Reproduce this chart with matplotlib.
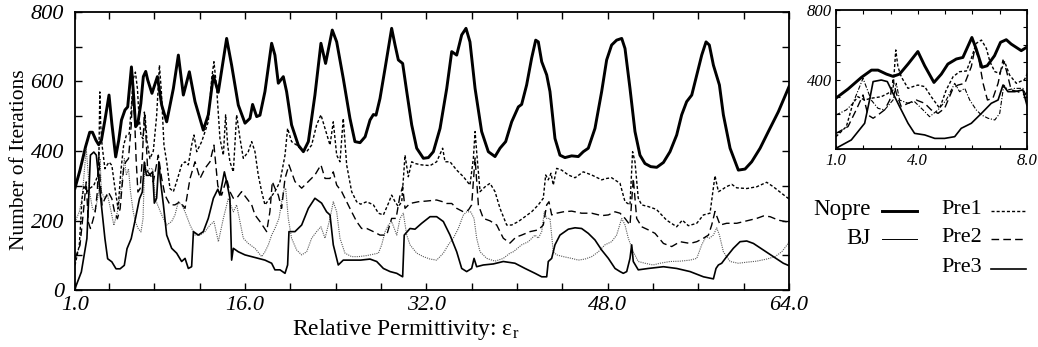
import matplotlib
matplotlib.use('Agg')
import matplotlib.pyplot as plt
from matplotlib.lines import Line2D
from matplotlib.ticker import FixedLocator, MultipleLocator

plt.rcParams['font.family'] = ['Liberation Serif', 'DejaVu Serif']
plt.rcParams['mathtext.fontset'] = 'custom'
plt.rcParams['mathtext.rm'] = 'Liberation Serif'
plt.rcParams['mathtext.it'] = 'Liberation Serif:italic'

# ---------------- data ----------------
nopre_x = [1.0,1.44,1.93,2.3,2.54,2.85,3.09,3.33,3.64,4.0,
           4.25,4.59,4.86,5.1,5.41,5.65,5.98,6.14,6.35,6.54,
           6.81,7.03,7.24,7.42,7.79,8.27,8.65,9.09,9.68,10.12,
           10.56,11.09,11.59,12.32,12.76,13.21,13.64,14.38,14.82,15.41,
           16.0,16.44,16.67,17.03,17.32,17.76,18.35,18.64,18.94,19.38,
           19.67,20.11,20.7,21.15,21.59,22.17,22.7,23.11,23.7,24.09,
           24.67,25.26,25.7,26.15,26.6,27.03,27.33,27.56,27.91,28.36,
           28.94,29.24,29.53,29.91,30.27,30.71,31.15,31.74,32.18,32.62,
           33.21,33.8,34.24,34.68,35.12,35.5,35.85,36.3,36.88,37.47,
           38.06,38.5,39.0,39.53,40.12,40.41,40.85,41.29,41.65,41.88,
           42.18,42.62,42.91,43.35,43.79,44.23,44.82,45.41,45.85,46.29,
           46.88,47.47,47.91,48.35,48.79,49.24,49.53,49.97,50.41,50.85,
           51.29,51.8,52.33,52.92,53.5,54.09,54.53,54.97,55.42,55.86,
           56.3,56.68,56.97,57.33,57.86,58.21,58.8,59.53,60.12,60.71,
           61.45,62.18,63.06,64.0]
nopre_y = [293,345,412,454,454,431,418,431,489,561,
           479,383,431,489,518,527,642,575,470,479,
           537,614,629,604,566,614,532,484,580,676,
           561,628,542,460,504,617,569,724,647,532,
           480,494,534,499,503,571,710,676,595,614,
           571,475,417,398,427,561,710,652,748,714,
           609,494,427,424,441,489,505,503,551,638,
           753,705,662,652,571,475,408,379,381,398,
           465,580,686,676,734,753,714,580,456,398,
           384,408,427,484,527,534,590,667,719,714,
           657,619,571,436,388,381,386,384,398,408,
           465,571,662,705,719,724,695,580,456,388,
           364,355,353,367,398,446,504,542,561,619,
           676,714,705,647,590,504,408,345,348,369,
           408,456,513,585]

pre1_x = [1.0,1.38,1.62,1.8,2.05,2.29,2.66,2.9,3.09,3.19,
          3.27,3.39,3.64,3.82,4.0,4.25,4.49,4.8,5.04,5.29,
          5.53,5.78,5.96,6.14,6.33,6.51,6.64,6.82,7.0,7.18,
          7.36,7.61,7.91,8.2,8.45,8.62,8.85,9.09,9.38,9.68,
          9.97,10.41,10.71,11.0,11.29,11.5,11.74,12.18,12.47,12.76,
          13.06,13.26,13.5,13.79,14.09,14.29,14.47,14.67,14.97,15.26,
          15.56,15.85,16.29,16.59,16.88,17.17,17.47,17.76,18.2,18.64,
          19.09,19.53,19.76,20.11,20.56,21.0,21.44,21.88,22.32,22.7,
          23.06,23.5,23.79,24.09,24.38,24.67,24.97,25.41,25.85,26.2,
          26.74,27.33,27.77,28.21,28.65,28.94,29.24,29.53,29.83,30.12,
          30.41,30.71,31.0,31.59,32.33,32.91,33.44,33.65,34.09,34.68,
          35.27,35.85,36.15,36.3,36.44,36.74,37.18,37.62,38.06,38.5,
          39.09,39.53,40.12,40.71,41.29,41.88,42.32,42.53,42.76,43.0,
          43.2,43.5,43.94,44.53,45.12,45.85,46.59,47.47,47.91,48.35,
          49.09,49.53,49.97,50.2,50.41,50.7,51.0,51.59,52.3,53.2,
          54.09,54.59,55.12,55.86,56.45,57.03,57.47,57.77,58.06,58.45,
          58.95,59.39,60.27,61.15,62.03,62.62,63.36,64.0]
pre1_y = [71,129,263,301,282,292,301,320,340,570,
          474,416,349,359,368,359,301,234,340,416,
          445,449,522,608,627,579,503,445,435,503,
          426,378,400,500,647,571,417,369,292,283,
          312,360,369,360,417,446,398,427,456,484,
          609,657,580,436,388,504,417,369,340,504,
          436,379,398,427,398,331,283,245,264,283,
          312,388,465,427,417,403,398,417,475,504,
          465,417,484,388,369,494,360,283,254,247,
          254,245,221,216,249,273,254,240,254,388,
          326,369,364,360,358,369,408,369,369,345,
          326,302,379,456,398,283,297,307,283,235,
          187,187,197,211,225,245,264,331,317,336,
          302,350,345,331,323,340,331,317,321,323,
          307,254,245,398,369,264,245,240,232,201,
          182,201,185,192,216,221,329,283,288,297,
          304,294,292,297,310,297,278,262]

pre2_x = [1.0,1.44,1.74,1.99,2.17,2.36,2.54,2.78,2.97,3.09,
          3.21,3.39,3.64,3.94,4.25,4.49,4.74,4.98,5.29,5.47,
          5.72,5.96,6.09,6.23,6.39,6.55,6.75,6.94,7.12,7.24,
          7.42,7.67,7.91,8.35,8.65,8.94,9.38,9.82,10.27,10.71,
          11.15,11.59,12.03,12.47,12.91,13.26,13.6,13.94,14.38,14.67,
          14.97,15.26,15.7,16.14,16.59,16.88,17.32,17.62,17.91,18.2,
          18.41,18.64,18.94,19.23,19.53,19.88,20.41,21.0,21.59,22.17,
          22.7,23.06,23.5,23.79,24.09,24.53,24.97,25.41,25.85,26.29,
          26.74,27.33,27.91,28.5,28.94,29.33,29.68,29.91,30.12,30.56,
          31.3,32.03,32.91,33.44,33.8,34.24,34.68,35.27,35.71,36.0,
          36.3,36.59,37.03,37.62,38.21,38.79,39.38,39.9,40.41,41.15,
          41.88,42.32,42.62,42.82,43.06,43.5,44.09,44.82,45.7,46.59,
          47.47,48.06,48.65,49.09,49.53,49.97,50.26,50.56,51.0,51.59,
          52.18,52.92,53.65,54.39,55.27,55.86,56.45,56.89,57.18,57.47,
          57.92,58.5,59.39,60.27,61.15,61.74,62.33,63.06,64.0]
pre2_y = [90,129,225,311,196,177,196,225,282,397,
          320,244,263,282,263,225,205,234,349,368,
          378,474,579,522,378,282,292,378,512,455,
          340,330,311,388,321,273,245,245,254,235,
          321,369,321,350,369,417,300,273,321,283,
          264,264,283,264,245,216,197,182,168,226,
          312,293,273,235,321,360,312,293,312,331,
          360,321,321,340,302,283,254,225,197,177,
          177,168,158,158,206,206,273,297,235,249,
          254,256,259,254,249,249,235,225,230,245,
          380,245,206,199,187,149,135,152,158,168,
          173,187,245,254,216,221,225,227,221,221,
          214,216,225,221,206,187,321,206,182,173,
          163,134,125,139,134,139,149,158,187,226,
          187,192,192,199,206,213,211,201,195]

bj_x = [1.0,1.38,1.62,1.99,2.29,2.54,2.78,3.09,3.21,3.33,
        3.64,3.88,4.19,4.43,4.74,5.04,5.35,5.53,5.72,5.9,
        6.14,6.33,6.57,6.82,7.0,7.15,7.3,7.55,7.85,8.1,
        8.65,9.09,9.53,9.82,10.12,10.41,10.71,11.15,11.59,12.03,
        12.47,12.91,13.26,13.65,14.09,14.53,14.97,15.26,15.56,15.85,
        16.29,16.88,17.47,17.76,18.06,18.35,18.64,19.0,19.38,19.59,
        19.82,20.11,20.56,21.0,21.44,21.88,22.32,22.7,23.06,23.5,
        23.79,24.09,24.38,24.82,25.41,26.0,26.74,27.33,27.77,28.06,
        28.36,28.65,28.94,29.39,29.68,29.97,30.27,30.56,31.15,31.74,
        32.33,32.91,33.5,33.94,34.38,34.82,35.27,35.56,35.91,36.21,
        36.44,36.74,37.33,38.06,38.79,39.38,39.68,40.41,41.0,41.59,
        41.88,42.18,42.41,42.62,42.91,43.2,43.5,44.09,44.82,45.41,
        46.0,46.59,47.18,47.76,48.35,48.79,49.24,49.53,49.82,50.26,
        50.7,51.29,52.0,52.62,53.5,54.39,55.27,55.86,56.3,56.68,
        56.97,57.33,57.62,57.86,58.21,58.8,59.53,60.27,61.15,62.03,
        62.77,63.36,63.86,64.0]
bj_y = [196,225,263,407,282,234,225,282,378,282,
        263,272,225,186,225,282,378,330,349,282,
        225,196,177,167,205,368,340,349,349,260,
        216,187,197,216,254,245,225,187,158,158,
        168,187,197,139,206,264,225,245,197,149,
        134,120,96,110,130,158,177,206,283,293,
        206,149,115,101,110,149,168,182,149,206,
        254,225,149,106,96,96,99,103,106,130,
        168,187,197,158,206,221,158,130,106,96,
        89,86,106,130,149,177,216,225,225,206,
        149,110,91,83,91,106,110,130,139,158,
        149,168,225,206,206,110,101,96,91,86,
        89,96,110,130,139,158,206,187,149,110,
        82,77,72,77,82,83,86,91,130,154,
        149,158,179,158,110,82,77,80,83,89,
        96,110,131,140]

pre3_x = [1.0,1.56,2.05,2.23,2.36,2.66,2.88,3.09,3.33,3.64,
          3.88,4.25,4.62,4.98,5.35,5.59,5.96,6.33,6.69,6.94,
          7.12,7.3,7.55,7.85,8.0,8.2,8.4,8.55,8.8,9.09,
          9.53,9.97,10.41,10.71,11.0,11.29,11.45,11.88,12.32,12.76,
          13.21,13.6,13.79,14.18,14.38,14.67,14.82,14.97,15.41,16.0,
          16.59,17.17,17.76,18.35,18.64,19.09,19.53,19.76,19.88,20.41,
          21.0,21.59,22.17,22.76,23.2,23.5,23.79,24.23,24.67,25.41,
          26.2,27.03,27.62,28.21,28.8,29.39,29.91,30.05,30.56,31.0,
          31.59,32.33,32.91,33.5,34.09,34.68,35.12,35.56,36.0,36.21,
          36.44,37.03,37.91,38.79,39.82,40.71,41.59,42.18,42.62,42.76,
          43.06,43.35,43.79,44.53,45.12,45.7,46.29,46.88,47.47,48.06,
          48.65,49.09,49.38,49.68,49.97,50.12,50.26,50.7,51.59,52.92,
          54.09,55.27,56.45,57.33,57.56,57.77,58.06,58.5,59.09,59.68,
          60.27,60.86,61.74,62.62,63.5,64.0]
pre3_y = [4,52,148,282,388,397,388,320,244,148,
          90,81,61,61,71,119,148,205,263,282,
          368,330,330,340,250,264,369,312,245,158,
          120,106,82,91,62,67,168,158,168,206,
          264,290,273,340,312,264,86,120,110,101,
          96,91,86,77,58,58,48,72,168,168,
          187,235,264,250,225,216,130,72,86,86,
          86,89,82,62,53,48,38,158,177,175,
          192,211,211,197,158,110,62,53,62,91,
          67,72,75,82,77,62,48,38,38,82,
          91,130,158,175,179,177,163,144,115,91,
          62,53,48,53,91,130,82,58,62,67,
          62,53,38,32,62,72,77,96,120,139,
          141,134,115,96,77,70]

main_xticks = [1, 16, 32, 48, 64]
main_xlabels = ['1.0', '16.0', '32.0', '48.0', '64.0']
main_yticks = [0, 200, 400, 600, 800]
inset_xticks = [1, 4, 8]
inset_xlabels = ['1.0', '4.0', '8.0']
inset_yticks = [400, 800]

series = [
    ('Nopre', nopre_x, nopre_y, dict(color='black', lw=2.1, ls='-')),
    ('BJ', bj_x, bj_y, dict(color='0.35', lw=0.8, ls=(0, (1, 1)))),
    ('Pre1', pre1_x, pre1_y, dict(color='black', lw=1.0, ls=(0, (2.2, 1.5)))),
    ('Pre2', pre2_x, pre2_y, dict(color='black', lw=1.0, ls=(0, (5.5, 3)))),
    ('Pre3', pre3_x, pre3_y, dict(color='black', lw=1.2, ls='-')),
]

W, H = 1038, 347
fig = plt.figure(figsize=(W / 100, H / 100), dpi=100)

def frac_box(l, t, r, b):
    return [l / W, 1 - b / H, (r - l) / W, (b - t) / H]

# ---------------- main axes ----------------
ax = fig.add_axes(frac_box(75, 12, 789, 290))
for name, xs, ys, st in series:
    ax.plot(xs, ys, solid_joinstyle='round', **st)
ax.set_xlim(1, 64)
ax.set_ylim(0, 800)
ax.set_xticks(main_xticks)
ax.set_xticklabels(main_xlabels, fontstyle='italic', fontsize=16)
ax.xaxis.set_minor_locator(FixedLocator([v for v in range(4, 64, 4) if v not in main_xticks]))
ax.set_yticks(main_yticks)
ax.set_yticklabels([str(v) for v in main_yticks], fontstyle='italic', fontsize=16)
ax.yaxis.set_minor_locator(MultipleLocator(100))
ax.tick_params(which='both', direction='in', top=True, right=True, length=5, width=1.0)
ax.tick_params(axis='x', which='major', pad=4)
ax.tick_params(axis='y', which='major', pad=8)
for s in ax.spines.values():
    s.set_linewidth(1.3)

fig.text(406 / W, 1 - 329 / H, 'Relative Permittivity: ε$_{\\mathrm{r}}$', fontsize=17,
         ha='center', va='center')
fig.text(20 / W, 1 - 160 / H, 'Number of Iterations', fontsize=15.5, rotation=90,
         ha='center', va='center')

# ---------------- inset ----------------
ai = fig.add_axes(frac_box(836, 10, 1027, 149))
for name, xs, ys, st in series:
    st2 = dict(st)
    if name == 'BJ':
        st2 = dict(color='black', lw=0.8, ls=(0, (4, 1.5, 1, 1.5)))
    ai.plot(xs, ys, **st2)
ai.set_xlim(1, 8)
ai.set_ylim(0, 800)
ai.set_xticks(inset_xticks)
ai.set_xticklabels(inset_xlabels, fontstyle='italic', fontsize=12)
ai.xaxis.set_minor_locator(FixedLocator([2, 3, 5, 6, 7]))
ai.set_yticks(inset_yticks)
ai.set_yticklabels([str(v) for v in inset_yticks], fontstyle='italic', fontsize=12)
ai.yaxis.set_minor_locator(MultipleLocator(100))
ai.tick_params(which='both', direction='in', top=True, right=True, length=3, width=0.8)
ai.tick_params(axis='both', which='major', pad=3)
for s in ai.spines.values():
    s.set_linewidth(1.3)

# ---------------- legend ----------------
styles = {name: st for name, xs, ys, st in series}
left_col = [('Nopre', 210), ('BJ', 238)]
right_col = [('Pre1', 210), ('Pre2', 238), ('Pre3', 268)]
for name, yy in left_col:
    fig.text(871 / W, 1 - yy / H, name, fontsize=16.5, ha='right', va='center')
    fig.add_artist(Line2D([882 / W, 917 / W], [1 - (yy + 1) / H] * 2, transform=fig.transFigure,
                          color='black',
                          lw=styles[name]['lw'] if name != 'BJ' else 0.7, ls='-'))
for name, yy in right_col:
    fig.text(941 / W, 1 - yy / H, name, fontsize=16, ha='left', va='center')
    fig.add_artist(Line2D([991 / W, 1026 / W], [1 - (yy + 1) / H] * 2, transform=fig.transFigure,
                          color=styles[name]['color'], lw=styles[name]['lw'], ls=styles[name]['ls']))

fig.savefig('out.png', dpi=100)
